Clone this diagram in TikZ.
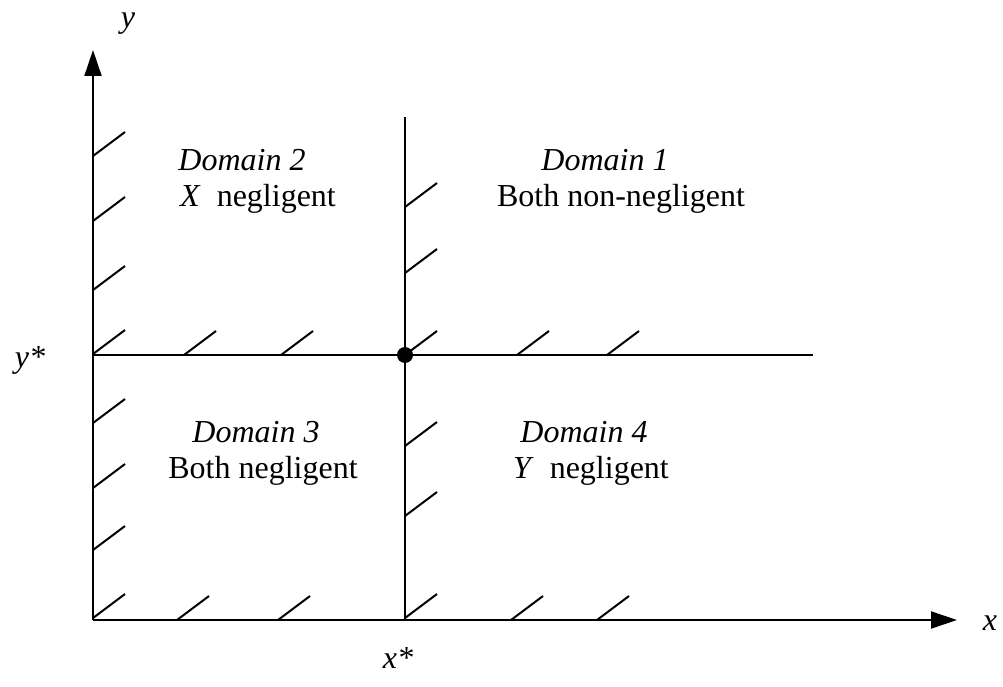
\documentclass[tikz,border=0pt]{standalone}
\usepackage{fontspec}
\setmainfont{Liberation Serif}
\usetikzlibrary{arrows.meta, positioning}

\begin{document}
\begin{tikzpicture}[x=1pt, y=-1pt,
  axis/.style={line width=2pt, -{Triangle[length=26pt, width=17pt]}},
  border/.style={line width=2pt},
  hatch/.style={line width=2pt},
  lbl/.style={font=\fontsize{32}{36}\selectfont, anchor=base},
  dom/.style={lbl, font=\fontsize{32}{36}\selectfont\itshape}]
\useasboundingbox (0,0) rectangle (1003,687);
% Key points
\coordinate (O) at (93,620);
\coordinate (ytip) at (93,50);
\coordinate (xtip) at (957,620);
\coordinate (S) at (405,355);
\coordinate (ystar) at (93,355);
\coordinate (yend) at (813,355);
\coordinate (vtop) at (405,117);
\coordinate (vbot) at (405,620);
% Axes
\draw[axis] (O) -- (ytip);
\draw[axis] (O) -- (xtip);
% Threshold lines
\draw[border] (ystar) -- (yend);
\draw[border] (vtop) -- (vbot);
\fill (S) circle (8);
% Hatches along the left axis and the vertical threshold
\foreach \y in {156,221,290,354,423,488,550,618} {
  \draw[hatch] (93,\y) -- ++(32,-24);
}
\foreach \y in {207,273,355,446,516,618} {
  \draw[hatch] (405,\y) -- ++(32,-24);
}
% Hatches along the horizontal threshold and the bottom axis
\foreach \x in {184,281,517,607} {
  \draw[hatch] (\x,355) -- ++(32,-24);
}
\foreach \x in {177,278,511,597} {
  \draw[hatch] (\x,620) -- ++(32,-24);
}
% Axis labels
\node[dom] (ylab) at (128,28) {y};
\node[dom] (ystarlab) at (30,367) {y*};
\node[dom] (xlab) at (990,630) {x};
\node[dom] (xstarlab) at (398,668) {x*};
% Domain labels
\node[dom] (d2) at (242,171) {Domain 2};
\node[lbl] (d2t) at (258,206) {\textit{X}\ \ negligent};
\node[dom] (d1) at (605,171) {Domain 1};
\node[lbl] (d1t) at (621,206) {Both non-negligent};
\node[dom] (d3) at (256,442) {Domain 3};
\node[lbl] (d3t) at (263,478) {Both negligent};
\node[dom] (d4) at (584,442) {Domain 4};
\node[lbl] (d4t) at (591,478) {\textit{Y}\ \ negligent};
\end{tikzpicture}
\end{document}
